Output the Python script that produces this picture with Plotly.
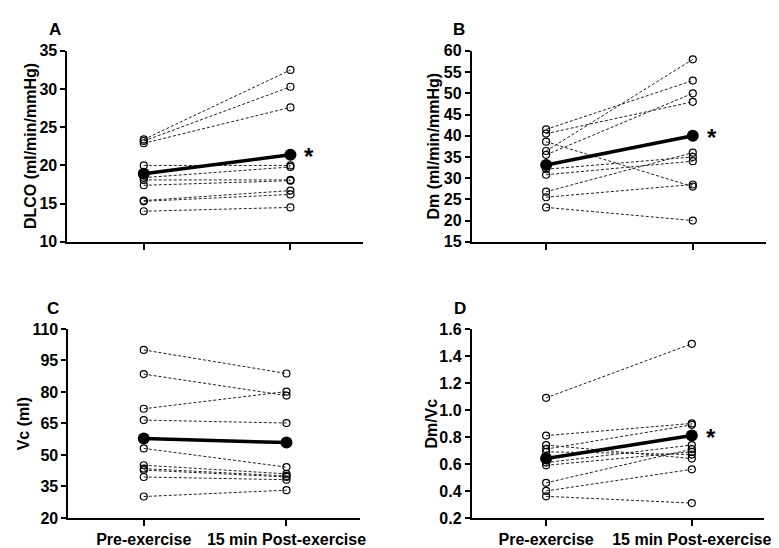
import plotly.graph_objects as go

W, H = 779, 548

categories = ["Pre-exercise", "15 min Post-exercise"]

dlco_pre = [23.4, 23.2, 22.9, 20.0, 18.4, 18.1, 17.4, 15.4, 15.3, 14.0]
dlco_post = [32.5, 30.3, 27.6, 20.0, 19.8, 18.1, 18.0, 16.7, 16.2, 14.5]
dlco_mean = [18.9, 21.4]

dm_pre = [41.5, 40.5, 38.6, 36.4, 35.5, 32.1, 30.8, 26.8, 25.5, 23.1]
dm_post = [53.0, 48.0, 28.0, 58.0, 50.0, 35.0, 34.0, 36.0, 28.5, 20.0]
dm_mean = [33.1, 40.0]

vc_pre = [100.0, 88.5, 72.0, 66.6, 53.1, 45.1, 43.5, 42.8, 39.5, 30.2]
vc_post = [88.8, 78.3, 80.2, 65.2, 44.2, 41.0, 40.0, 39.5, 38.2, 33.2]
vc_mean = [57.8, 55.9]

dmvc_pre = [1.09, 0.81, 0.74, 0.71, 0.69, 0.61, 0.59, 0.46, 0.40, 0.36]
dmvc_post = [1.49, 0.90, 0.64, 0.89, 0.67, 0.74, 0.69, 0.71, 0.56, 0.31]
dmvc_mean = [0.64, 0.81]

panels = [
    dict(letter="A", pre=dlco_pre, post=dlco_post, mean=dlco_mean,
         title="DLCO (ml/min/mmHg)", rng=[10, 35], dtick=5, fmt="d",
         px=(60, 358), py=(36, 233), star=True, labels=False, tx=23, lx=47, ly=14),
    dict(letter="B", pre=dm_pre, post=dm_post, mean=dm_mean,
         title="Dm (ml/min/mmHg)", rng=[15, 60], dtick=5, fmt="d",
         px=(468, 765), py=(36, 233), star=True, labels=False, tx=429, lx=455, ly=14),
    dict(letter="C", pre=vc_pre, post=vc_post, mean=vc_mean,
         title="Vc (ml)", rng=[20, 110], dtick=15, fmt="d",
         px=(61, 355), py=(323, 518), star=False, labels=True, tx=16, lx=45, ly=302),
    dict(letter="D", pre=dmvc_pre, post=dmvc_post, mean=dmvc_mean,
         title="Dm/Vc", rng=[0.2, 1.6], dtick=0.2, fmt=".1f",
         px=(468, 763), py=(323, 518), star=True, labels=True, tx=427, lx=456, ly=302),
]

FONT = "Arial, Liberation Sans, sans-serif"
fig = go.Figure()
annotations = []
layout = {}

for i, p in enumerate(panels):
    n = "" if i == 0 else str(i + 1)
    xa, ya = "x" + n, "y" + n
    x0, x1 = p["px"]
    ytop, ybot = p["py"]
    # individual subjects
    for a, b in zip(p["pre"], p["post"]):
        fig.add_trace(go.Scatter(
            x=[0, 1], y=[a, b], mode="lines+markers", xaxis=xa, yaxis=ya,
            line=dict(color="#222222", width=1, dash="3px,2px"),
            marker=dict(symbol="circle-open", size=7, color="black", line=dict(width=1.2)),
            showlegend=False, hoverinfo="skip"))
    # mean
    fig.add_trace(go.Scatter(
        x=[0, 1], y=p["mean"], mode="lines+markers", xaxis=xa, yaxis=ya,
        line=dict(color="black", width=3.5),
        marker=dict(symbol="circle", size=12, color="black"),
        showlegend=False, hoverinfo="skip"))
    # x pixel positions of categories -> range
    width = x1 - x0
    c0 = (137 if i % 2 == 0 else 543) - x0
    c1 = (285 if i == 0 else (691 if i == 1 else (281 if i == 2 else 690))) - x0
    unit = (c1 - c0) / width
    r0 = -(c0 / width) / unit
    r1 = r0 + 1 / unit
    layout["xaxis" + n] = dict(
        domain=[x0 / W, x1 / W], anchor=ya, range=[r0, r1],
        tickvals=[0, 1], ticktext=categories if p["labels"] else ["", ""],
        showgrid=False, zeroline=False, showline=True, linecolor="black", linewidth=2,
        ticks="outside", ticklen=6, tickwidth=2, tickcolor="black",
        tickfont=dict(family=FONT, size=16, color="black", weight="bold"),
        fixedrange=True)
    layout["yaxis" + n] = dict(
        domain=[1 - ybot / H, 1 - ytop / H], anchor=xa, range=p["rng"],
        dtick=p["dtick"], tick0=p["rng"][0], tickformat=p["fmt"],
        showgrid=False, zeroline=False, showline=True, linecolor="black", linewidth=2,
        ticks="outside", ticklen=5, tickwidth=2, tickcolor="black",
        tickfont=dict(family=FONT, size=16, color="black", weight="bold"),
        fixedrange=True)
    # axis title
    annotations.append(dict(
        text=p["title"], textangle=-90, xref="paper", yref="paper",
        x=p["tx"] / W, y=1 - (ytop + ybot) / 2 / H, showarrow=False,
        xanchor="center", yanchor="middle",
        font=dict(family=FONT, size=16, color="black", weight="bold")))
    # panel letter
    annotations.append(dict(
        text=p["letter"], xref="paper", yref="paper",
        x=p["lx"] / W, y=1 - p["ly"] / H, showarrow=False,
        xanchor="center", yanchor="middle",
        font=dict(family=FONT, size=17, color="black", weight="bold")))
    if p["star"]:
        annotations.append(dict(
            text="*", xref=xa, yref=ya, x=1, y=p["mean"][1], xshift=12, yshift=-2,
            showarrow=False, xanchor="left", yanchor="middle",
            font=dict(family=FONT, size=24, color="black", weight="bold")))

fig.update_layout(
    width=W, height=H, margin=dict(l=0, r=0, t=0, b=0),
    paper_bgcolor="white", plot_bgcolor="white",
    annotations=annotations, **layout)

fig.write_html("out.html")
